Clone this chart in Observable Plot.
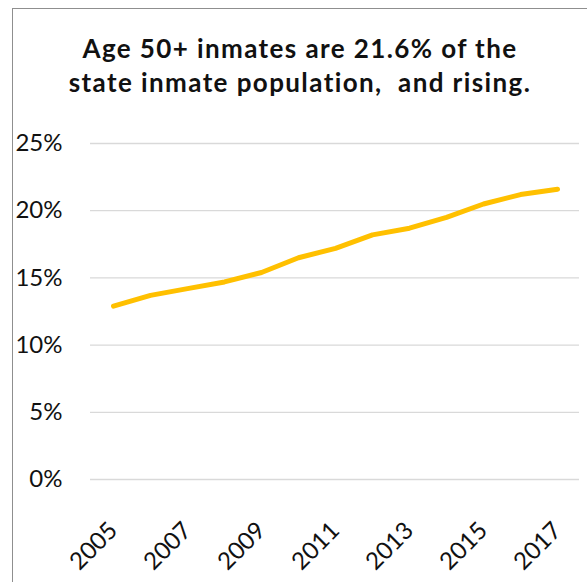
<!DOCTYPE html>
<html>
<head>
<meta charset="utf-8">
<script src="https://cdn.jsdelivr.net/npm/d3@7"></script>
<script src="https://cdn.jsdelivr.net/npm/@observablehq/plot@0.6"></script>
<style>
  html, body { margin: 0; padding: 0; background: #fff; }
  body { width: 587px; height: 582px; position: relative; overflow: hidden; font-family: Lato, "Open Sans", sans-serif; }
  #frame { position: absolute; left: 12px; top: 8px; width: 600px; height: 600px; border-left: 1.5px solid #8f8f8f; border-top: 1.5px solid #8f8f8f; box-sizing: border-box; }
  #title { position: absolute; left: 0; width: 600px; top: 31px; text-align: center; font-weight: 700; font-size: 26px; letter-spacing: 1.4px; line-height: 34px; color: #111; }
  #chart { position: absolute; left: 0; top: 0; }
</style>
</head>
<body>
<div id="frame"></div>
<div id="title">Age 50+ inmates are 21.6% of the<br>state inmate population,&nbsp; and rising.</div>
<div id="chart"></div>
<script>
const years = [2005, 2006, 2007, 2008, 2009, 2010, 2011, 2012, 2013, 2014, 2015, 2016, 2017];
const sharePct = [12.9, 13.7, 14.2, 14.7, 15.4, 16.5, 17.2, 18.2, 18.7, 19.5, 20.5, 21.2, 21.6];
const yTicks = [0, 5, 10, 15, 20, 25];
const xTickLabels = [2005, 2007, 2009, 2011, 2013, 2015, 2017];

const data = years.map((y, i) => ({year: y, value: sharePct[i]}));

const chart = Plot.plot({
  width: 587,
  height: 582,
  marginTop: 143,
  marginBottom: 103,
  marginLeft: 90,
  marginRight: 8,
  style: {fontFamily: "Lato, 'Open Sans', sans-serif", background: "transparent", color: "#111"},
  x: {type: "point", domain: years, padding: 0.5},
  y: {domain: [0, 25]},
  marks: [
    Plot.gridY(yTicks, {stroke: "#d9d9d9", strokeOpacity: 1, strokeWidth: 1.3}),
    Plot.axisY(yTicks, {tickSize: 0, tickPadding: 28, tickFormat: d => d + "%", fontSize: 24, fill: "#111", textAnchor: "end", label: null}),
    Plot.axisX(xTickLabels, {tickSize: 0, tickRotate: -45, tickPadding: 47, tickFormat: d => String(d), fontSize: 24, fill: "#111", label: null}),
    Plot.line(data, {x: "year", y: "value", stroke: "#FFC000", strokeWidth: 5, strokeLinecap: "round", strokeLinejoin: "round"})
  ]
});
document.getElementById("chart").appendChild(chart);
</script>
</body>
</html>
